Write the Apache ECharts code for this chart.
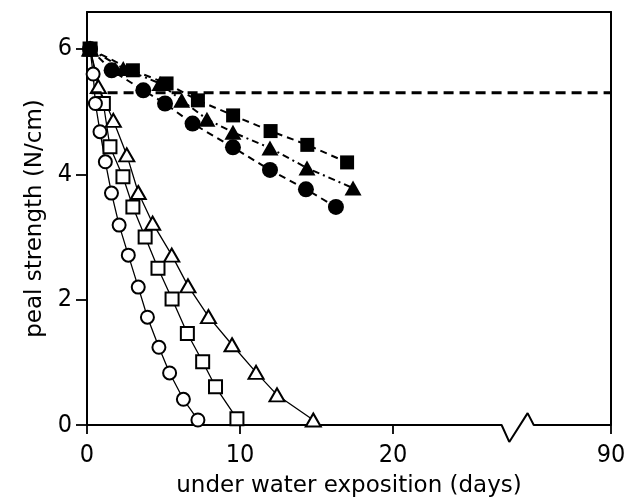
<!DOCTYPE html>
<html>
<head>
<meta charset="utf-8">
<script src="https://cdn.jsdelivr.net/npm/echarts@6/dist/echarts.min.js"></script>
<style>html,body{margin:0;padding:0;background:#fff}#c{width:624px;height:500px}</style>
</head>
<body>
<div id="c"></div>
<script>
// ---- data ----
const xTickValues = [0, 10, 20, 34.25];
const xTickLabels = ['0', '10', '20', '90'];
const yTickValues = [0, 2, 4, 6];
const yTickLabels = ['0', '2', '4', '6'];

const filledSquareX   = [0.2, 3.0, 5.2, 7.25, 9.55, 12.0, 14.4, 17.0];
const filledSquareY   = [6.0, 5.66, 5.45, 5.18, 4.94, 4.69, 4.47, 4.19];
const filledTriangleX = [0.2, 2.37, 4.77, 6.19, 7.84, 9.54, 11.96, 14.38, 17.39];
const filledTriangleY = [6.0, 5.69, 5.45, 5.18, 4.88, 4.67, 4.42, 4.10, 3.78];
const filledCircleX   = [0.2, 1.61, 3.68, 5.1, 6.9, 9.54, 11.96, 14.31, 16.27];
const filledCircleY   = [6.0, 5.66, 5.34, 5.13, 4.81, 4.43, 4.07, 3.76, 3.48];

const openCircleX   = [0.2, 0.4, 0.55, 0.85, 1.2, 1.6, 2.1, 2.7, 3.35, 3.95, 4.7, 5.4, 6.3, 7.25];
const openCircleY   = [6.0, 5.6, 5.13, 4.68, 4.2, 3.7, 3.19, 2.71, 2.2, 1.72, 1.24, 0.83, 0.41, 0.08];
const openSquareX   = [0.2, 1.07, 1.5, 2.35, 3.0, 3.8, 4.64, 5.56, 6.56, 7.56, 8.4, 9.8];
const openSquareY   = [6.0, 5.13, 4.44, 3.96, 3.48, 3.0, 2.5, 2.01, 1.46, 1.01, 0.61, 0.1];
const openTriangleX = [0.2, 0.74, 1.72, 2.6, 3.35, 4.29, 5.54, 6.6, 7.94, 9.48, 11.05, 12.42, 14.79];
const openTriangleY = [6.0, 5.4, 4.86, 4.31, 3.71, 3.22, 2.71, 2.22, 1.73, 1.28, 0.84, 0.48, 0.08];

const referenceX = [0.3, 34.25];
const referenceY = [5.3, 5.3];

// axis line with the break mark (decoration)
const breakLineX = [0, 27.1, 27.6, 28.8, 29.2, 34.25];
const breakLineY = [0, 0, -0.27, 0.19, 0, 0];

const xMin = 0, xMax = 34.25, yMin = 0, yMax = 6.59;

const zip = (xs, ys) => xs.map((x, i) => [x, ys[i]]);

const tickFont = '"Liberation Sans Narrow", "DejaVu Sans Condensed", sans-serif';
const nameFont = '"DejaVu Sans", sans-serif';

function openSeries(name, xs, ys, symbol, size) {
  return {
    name, type: 'line', data: zip(xs, ys), symbol, symbolSize: size,
    showAllSymbol: true, z: 2,
    lineStyle: { color: '#000', width: 1.3 },
    itemStyle: { color: '#fff', borderColor: '#000', borderWidth: 2 }
  };
}
function filledSeries(name, xs, ys, symbol, size, dash) {
  return {
    name, type: 'line', data: zip(xs, ys), symbol, symbolSize: size,
    showAllSymbol: true, z: 4,
    lineStyle: { color: '#000', width: 2, type: dash },
    itemStyle: { color: '#000', borderColor: '#000', borderWidth: 0 }
  };
}

const chart = echarts.init(document.getElementById('c'), null, { renderer: 'canvas' });
chart.setOption({
  backgroundColor: '#fff',
  animation: false,
  grid: { left: 87, right: 13, top: 12, bottom: 75, containLabel: false, outerBoundsMode: 'none' },
  xAxis: [{
    type: 'value', min: xMin, max: xMax, position: 'bottom',
    axisLine: { show: false, onZero: false },
    splitLine: { show: false },
    axisTick: { show: true, customValues: xTickValues, length: 9, inside: false,
      lineStyle: { color: '#000', width: 1.8 } },
    axisLabel: { customValues: xTickValues, margin: 18, color: '#000',
      fontFamily: tickFont, fontSize: 25,
      formatter: (v) => xTickLabels[xTickValues.indexOf(v)] ?? '' },
    name: 'under water exposition (days)', nameLocation: 'middle', nameGap: 50,
    nameTextStyle: { color: '#000', fontFamily: nameFont, fontSize: 23 }
  }, {
    type: 'value', min: xMin, max: xMax, position: 'top',
    axisLine: { show: true, onZero: false, lineStyle: { color: '#000', width: 2 } },
    axisTick: { show: false }, axisLabel: { show: false }, splitLine: { show: false }
  }],
  yAxis: [{
    type: 'value', min: yMin, max: yMax, position: 'left',
    axisLine: { show: true, onZero: false, lineStyle: { color: '#000', width: 2 } },
    splitLine: { show: false },
    axisTick: { show: true, customValues: yTickValues, length: 11,
      lineStyle: { color: '#000', width: 1.8 } },
    axisLabel: { customValues: yTickValues, margin: 15, color: '#000',
      fontFamily: tickFont, fontSize: 25,
      formatter: (v) => yTickLabels[yTickValues.indexOf(v)] ?? '' },
    name: 'peal strength (N/cm)', nameLocation: 'middle', nameGap: 40,
    nameTextStyle: { color: '#000', fontFamily: nameFont, fontSize: 23 }
  }, {
    type: 'value', min: yMin, max: yMax, position: 'right',
    axisLine: { show: true, onZero: false, lineStyle: { color: '#000', width: 2 } },
    axisTick: { show: false }, axisLabel: { show: false }, splitLine: { show: false }
  }],
  series: [
    {
      name: 'x axis', type: 'line', data: zip(breakLineX, breakLineY), symbol: 'none',
      clip: false, silent: true, z: 1,
      lineStyle: { color: '#000', width: 2 }
    },
    {
      name: 'reference', type: 'line', data: zip(referenceX, referenceY), symbol: 'none',
      z: 3, lineStyle: { color: '#000', width: 3, type: [10, 6] }
    },
    openSeries('open triangle', openTriangleX, openTriangleY, 'triangle', [15, 13]),
    openSeries('open square', openSquareX, openSquareY, 'rect', 13),
    openSeries('open circle', openCircleX, openCircleY, 'circle', 13),
    filledSeries('filled circle', filledCircleX, filledCircleY, 'circle', 16, [7, 5]),
    filledSeries('filled triangle', filledTriangleX, filledTriangleY, 'triangle', [17, 15], [7, 4, 2, 4]),
    filledSeries('filled square', filledSquareX, filledSquareY, 'rect', 14, [7, 5])
  ]
});
</script>
</body>
</html>
